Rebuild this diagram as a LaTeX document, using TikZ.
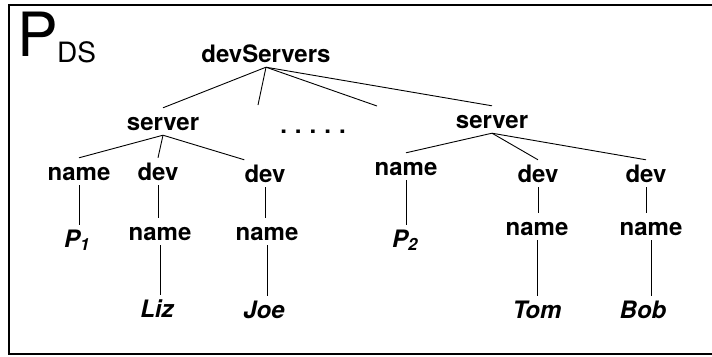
\documentclass[tikz,border=0pt]{standalone}
\usepackage{fontspec}
\setmainfont{TeX Gyre Heros}
\usepackage{tikz}

\tikzset{
  lbl/.style={font=\fontsize{24}{28}\selectfont\bfseries, inner xsep=0pt, inner ysep=5pt,
              text height=17pt, text depth=0pt, anchor=base},
  leaf/.style={lbl, font=\fontsize{24}{28}\selectfont\bfseries\itshape},
  edge/.style={line width=0.9pt}
}

\begin{document}
\begin{tikzpicture}[x=1pt,y=-1pt]
        \useasboundingbox (0,0) rectangle (712,356);
        \draw[line width=1.5pt] (716,5) -- (9,5) -- (9,354) -- (716,354);
        % title
        \node (ttl) [anchor=base west, inner sep=0pt, font=\fontsize{61}{64}\selectfont] at (17,56) {P};
        \node (ttlsub) [anchor=base west, inner sep=0pt, font=\fontsize{28}{30}\selectfont] at (57,62) {DS};
        % tree
        \node (root) [lbl] at (266,62) {devServers};
        \node (srvA) [lbl] at (163,130) {server};
        \node (srvB) [lbl] at (492,128) {server};
        \node (dots) [lbl] at (313,133) {.\,\,.\,\,.\,\,.\,\,.};
        \coordinate (gapA) at (258,105);
        \coordinate (gapB) at (377,106);
        \node (nmA) [lbl] at (79,180) {name};
        \node (devA) [lbl] at (158,180) {dev};
        \node (devB) [lbl] at (265,182) {dev};
        \node (nmB) [lbl] at (406,175) {name};
        \node (devC) [lbl] at (538,182) {dev};
        \node (devD) [lbl] at (646,182) {dev};
        \node (pA) [leaf] at (77,247) {P\textsubscript{1}};
        \node (nmC) [lbl] at (160,240) {name};
        \node (nmD) [lbl] at (267,240) {name};
        \node (pB) [leaf] at (405,247) {P\textsubscript{2}};
        \node (nmE) [lbl] at (537,235) {name};
        \node (nmF) [lbl] at (651,235) {name};
        \node (liz) [leaf] at (157,317) {Liz};
        \node (joe) [leaf] at (264,318) {Joe};
        \node (tom) [leaf] at (537,318) {Tom};
        \node (bob) [leaf] at (643,318) {Bob};
        % edges
        \foreach \a/\b in {root/srvA, root/gapA, root/gapB, root/srvB,
                           srvA/nmA, srvA/devA, srvB/nmB, srvB/devC, srvB/devD}
            \draw[edge] (\a.south) -- (\b.north);
        \draw[edge] (srvA.south) -- (devB.north west);
        % straight down
        \foreach \a/\b in {nmA/pA, devA/nmC, devB/nmD, nmC/liz, nmD/joe,
                           nmB/pB, devC/nmE, devD/nmF, nmE/tom, nmF/bob}
            \draw[edge] (\a.south) -- (\a.south |- \b.north);
\end{tikzpicture}
\end{document}
